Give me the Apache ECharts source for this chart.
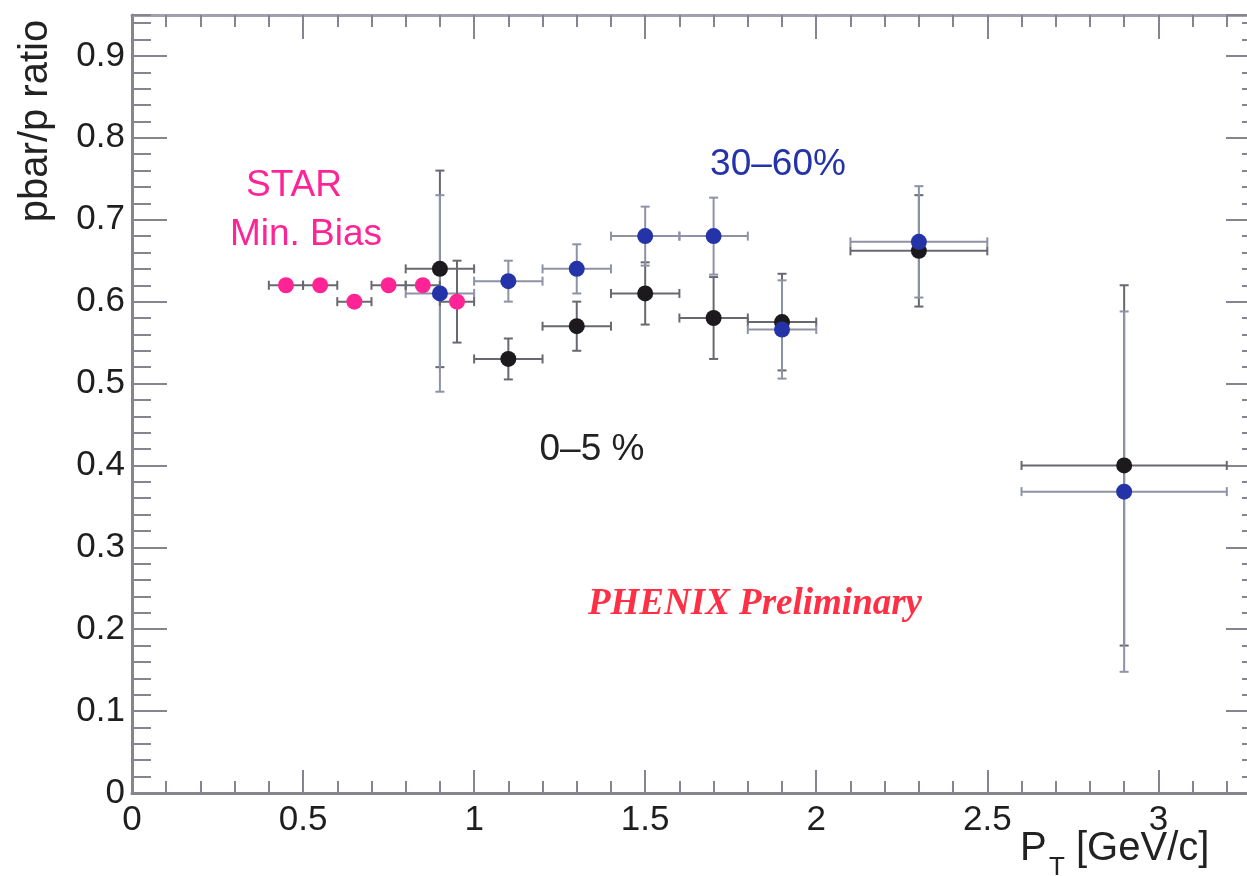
<!DOCTYPE html>
<html>
<head>
<meta charset="utf-8">
<script src="https://cdn.jsdelivr.net/npm/echarts@6/dist/echarts.min.js"></script>
<style>
html,body{margin:0;padding:0;background:#fff;}
#c{width:1247px;height:876px;}
</style>
</head>
<body>
<div id="c"></div>
<script>
// STAR Min. Bias
const starX    = [0.45, 0.55, 0.65, 0.75, 0.85, 0.95];
const starY    = [0.62, 0.62, 0.60, 0.62, 0.62, 0.60];
const starXErr = [0.05, 0.05, 0.05, 0.05, 0.05, 0.05];
const starYErr = [0, 0, 0, 0, 0, 0.05];
// PHENIX 0-5 %
const centX    = [0.9, 1.1, 1.3, 1.5, 1.7, 1.9, 2.3, 2.9];
const centY    = [0.64, 0.53, 0.57, 0.61, 0.58, 0.575, 0.662, 0.40];
const centXErr = [0.1, 0.1, 0.1, 0.1, 0.1, 0.1, 0.2, 0.3];
const centYErr = [0.12, 0.025, 0.03, 0.038, 0.05, 0.059, 0.068, 0.22];
// PHENIX 30-60 %
const periX    = [0.9, 1.1, 1.3, 1.5, 1.7, 1.9, 2.3, 2.9];
const periY    = [0.61, 0.625, 0.64, 0.68, 0.68, 0.566, 0.673, 0.368];
const periXErr = [0.1, 0.1, 0.1, 0.1, 0.1, 0.1, 0.2, 0.3];
const periYErr = [0.12, 0.025, 0.03, 0.036, 0.047, 0.06, 0.068, 0.22];

const xMin = 0, xMax = 3.3, yMin = 0, yMax = 0.95;

const build = (xs, ys, xe, ye) => xs.map((x, i) => [x, ys[i], xe[i], ye[i]]);

function errRenderer(color) {
  return function (params, api) {
    const x = api.value(0), y = api.value(1), xe = api.value(2), ye = api.value(3);
    const cap = 4.5;
    const st = { stroke: color, lineWidth: 2 };
    const ch = [];
    if (xe > 0) {
      const l = api.coord([x - xe, y]), r = api.coord([x + xe, y]);
      ch.push({ type: 'line', shape: { x1: l[0], y1: l[1], x2: r[0], y2: r[1] }, style: st });
      ch.push({ type: 'line', shape: { x1: l[0], y1: l[1] - cap, x2: l[0], y2: l[1] + cap }, style: st });
      ch.push({ type: 'line', shape: { x1: r[0], y1: r[1] - cap, x2: r[0], y2: r[1] + cap }, style: st });
    }
    if (ye > 0) {
      const t = api.coord([x, y + ye]), b = api.coord([x, y - ye]);
      ch.push({ type: 'line', shape: { x1: t[0], y1: t[1], x2: b[0], y2: b[1] }, style: st });
      ch.push({ type: 'line', shape: { x1: t[0] - cap, y1: t[1], x2: t[0] + cap, y2: t[1] }, style: st });
      ch.push({ type: 'line', shape: { x1: b[0] - cap, y1: b[1], x2: b[0] + cap, y2: b[1] }, style: st });
    }
    return { type: 'group', children: ch };
  };
}

const axisCol = '#85858f';
const labelFont = { fontFamily: 'Liberation Sans, Arial, sans-serif', fontSize: 35, color: '#1e1e1e' };

function xAx(pos, interval, len, labels) {
  return {
    type: 'value', min: xMin, max: xMax, interval: interval, position: pos,
    axisLine: { show: labels, onZero: false, lineStyle: { color: axisCol, width: 3 } },
    axisTick: { show: true, inside: true, length: len, lineStyle: { color: axisCol, width: 2 } },
    axisLabel: labels ? Object.assign({ show: true, margin: 10, showMaxLabel: false, showMinLabel: true }, labelFont) : { show: false },
    splitLine: { show: false }, minorTick: { show: false }
  };
}
function yAx(pos, interval, len, labels) {
  return {
    type: 'value', min: yMin, max: yMax, interval: interval, position: pos,
    axisLine: { show: labels, onZero: false, lineStyle: { color: axisCol, width: 3 } },
    axisTick: { show: true, inside: true, length: len, lineStyle: { color: axisCol, width: 2 } },
    axisLabel: labels ? Object.assign({ show: true, margin: 7, showMaxLabel: false, showMinLabel: true }, labelFont) : { show: false },
    splitLine: { show: false }, minorTick: { show: false }
  };
}

const chart = echarts.init(document.getElementById('c'), null, { renderer: 'canvas' });
chart.setOption({
  backgroundColor: '#ffffff',
  animation: false,
  grid: { left: 132, right: -14, top: 15, bottom: 83, containLabel: false, outerBoundsMode: 'none' },
  xAxis: [
    xAx('bottom', 0.5, 23, true),
    xAx('bottom', 0.1, 12, false),
    Object.assign(xAx('top', 0.5, 24, false), { axisLine: { show: true, onZero: false, lineStyle: { color: '#a0a0b0', width: 3 } } }),
    xAx('top', 0.1, 12, false)
  ],
  yAxis: [
    yAx('left', 0.1, 35, true),
    yAx('left', 0.02, 19, false),
    yAx('right', 0.1, 35, false),
    yAx('right', 0.02, 19, false)
  ],
  series: [
    { type: 'custom', renderItem: errRenderer('#686870'), data: build(centX, centY, centXErr, centYErr), encode: { x: 0, y: 1 }, z: 2, silent: true },
    { type: 'custom', renderItem: errRenderer('#8e92a6'), data: build(periX, periY, periXErr, periYErr), encode: { x: 0, y: 1 }, z: 2, silent: true },
    { type: 'custom', renderItem: errRenderer('#686870'), data: build(starX, starY, starXErr, starYErr), encode: { x: 0, y: 1 }, z: 2, silent: true },
    { type: 'scatter', name: '0-5 %', data: centX.map((x, i) => [x, centY[i]]), symbol: 'circle', symbolSize: 16, itemStyle: { color: '#1c1a1c', opacity: 1 }, z: 3 },
    { type: 'scatter', name: '30-60%', data: periX.map((x, i) => [x, periY[i]]), symbol: 'circle', symbolSize: 16, itemStyle: { color: '#2434a8', opacity: 1 }, z: 4 },
    { type: 'scatter', name: 'STAR Min. Bias', data: starX.map((x, i) => [x, starY[i]]), symbol: 'circle', symbolSize: 16, itemStyle: { color: '#ff2496', opacity: 1 }, z: 5 }
  ],
  graphic: [
    { type: 'text', x: 36, y: 121, rotation: Math.PI / 2, style: { text: 'pbar/p ratio', fontFamily: 'Liberation Sans, Arial, sans-serif', fontSize: 40, fill: '#222', textAlign: 'center', textVerticalAlign: 'middle' } },
    { type: 'text', x: 1020, y: 849, style: { text: 'P', fontFamily: 'Liberation Sans, Arial, sans-serif', fontSize: 40, fill: '#222', textAlign: 'left', textVerticalAlign: 'middle' } },
    { type: 'text', x: 1049, y: 868, style: { text: 'T', fontFamily: 'Liberation Sans, Arial, sans-serif', fontSize: 26, fill: '#222', textAlign: 'left', textVerticalAlign: 'middle' } },
    { type: 'text', x: 1076, y: 849, style: { text: '[GeV/c]', fontFamily: 'Liberation Sans, Arial, sans-serif', fontSize: 40, fill: '#222', textAlign: 'left', textVerticalAlign: 'middle' } },
    { type: 'text', x: 294, y: 186, style: { text: 'STAR', fontFamily: 'Liberation Sans, Arial, sans-serif', fontSize: 37, fill: '#ff2496', textAlign: 'center', textVerticalAlign: 'middle' } },
    { type: 'text', x: 306, y: 235, style: { text: 'Min. Bias', fontFamily: 'Liberation Sans, Arial, sans-serif', fontSize: 37, fill: '#ff2496', textAlign: 'center', textVerticalAlign: 'middle' } },
    { type: 'text', x: 778, y: 165, style: { text: '30\u201360%', fontFamily: 'Liberation Sans, Arial, sans-serif', fontSize: 37, fill: '#2434a8', textAlign: 'center', textVerticalAlign: 'middle' } },
    { type: 'text', x: 592, y: 450, style: { text: '0\u20135 %', fontFamily: 'Liberation Sans, Arial, sans-serif', fontSize: 37, fill: '#222', textAlign: 'center', textVerticalAlign: 'middle' } },
    { type: 'text', x: 755, y: 604, style: { text: 'PHENIX Preliminary', fontFamily: 'Liberation Serif, Times New Roman, serif', fontStyle: 'italic', fontWeight: 'bold', fontSize: 37, fill: '#ff3045', textAlign: 'center', textVerticalAlign: 'middle' } }
  ]
});
</script>
</body>
</html>
